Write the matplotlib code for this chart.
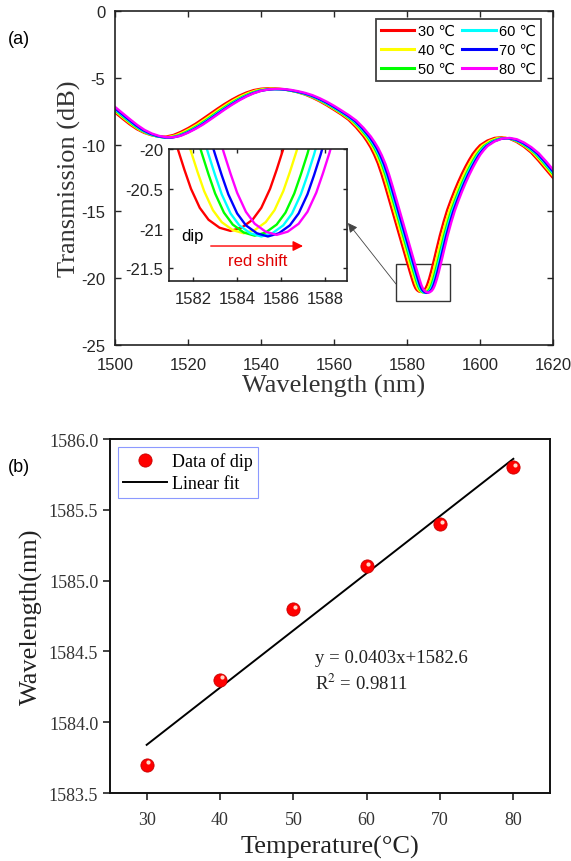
import numpy as np
import matplotlib
matplotlib.use("Agg")
import matplotlib.pyplot as plt
from matplotlib.patches import Rectangle
from matplotlib.transforms import ScaledTranslation

plt.rcParams['axes.unicode_minus'] = False
plt.rcParams['mathtext.fontset'] = 'stix'

# ---- data: panel (a), 30 C spectrum ----
wl_base = [1496, 1498, 1500, 1502, 1504, 1506, 1508, 1510, 1512, 1514, 1516, 1518,
           1520, 1522, 1524, 1526, 1528, 1530, 1532, 1534, 1536, 1538, 1540, 1542,
           1544, 1546, 1548, 1550, 1552, 1554, 1556, 1558, 1560, 1562, 1564, 1566,
           1568, 1569, 1570, 1571, 1572, 1573, 1574, 1575, 1576, 1577, 1578, 1579,
           1580, 1580.8, 1581.3, 1581.6, 1581.9, 1582.3, 1582.7, 1583.2, 1583.7,
           1584.2, 1584.7, 1585.1, 1585.5, 1585.8, 1586.1, 1586.6, 1587, 1587.5,
           1588, 1589, 1590, 1591, 1592, 1593, 1594, 1595, 1596, 1597, 1598, 1599,
           1600, 1602, 1604, 1606, 1608, 1610, 1612, 1614, 1616, 1618, 1620, 1622]
t_base = [-6.7, -7.15, -7.6, -8.05, -8.48, -8.85, -9.12, -9.3, -9.4, -9.4, -9.28, -9.05,
          -8.77, -8.45, -8.08, -7.7, -7.32, -6.96, -6.63, -6.34, -6.1, -5.92, -5.82, -5.78,
          -5.79, -5.85, -5.95, -6.08, -6.25, -6.48, -6.75, -7.06, -7.4, -7.75, -8.15, -8.7,
          -9.35, -9.75, -10.2, -10.75, -11.4, -12.2, -13.1, -14.05, -15.0, -15.95, -16.9, -17.85,
          -18.8, -19.55, -20.0, -20.26, -20.5, -20.74, -20.89, -20.99, -21.03,
          -20.99, -20.89, -20.74, -20.5, -20.26, -20.0, -19.5, -19.05, -18.5,
          -17.92, -16.8, -15.8, -14.9, -14.15, -13.45, -12.8, -12.2, -11.65, -11.15, -10.7, -10.35,
          -10.05, -9.7, -9.5, -9.45, -9.55, -9.8, -10.15, -10.6, -11.2, -11.85, -12.5, -13.1]

temps = [30, 40, 50, 60, 70, 80]
dip_wl = [1583.7, 1584.3, 1584.8, 1585.1, 1585.4, 1585.8]
dip_depth = [-21.03, -21.06, -21.09, -21.10, -21.10, -21.08]
colors = ['#ff0000', '#ffff00', '#00ff00', '#00ffff', '#0000ff', '#ff00ff']

# panel (b) fit line end points
fit_x = [30, 80]
fit_y = [1583.84, 1585.86]

W, H = 571, 862
fig = plt.figure(figsize=(W / 100, H / 100), dpi=100)

def box(l, t, r, b):
    return [l / W, 1 - b / H, (r - l) / W, (b - t) / H]

sans = ['Liberation Sans', 'DejaVu Sans']
serif = ['Liberation Serif', 'DejaVu Serif']
tick_col = '#262626'

# ---------------- panel (a) ----------------
ax = fig.add_axes(box(115, 12, 553, 346))
wl_base = np.array(wl_base)
t_base = np.array(t_base)
curves = []
for i, T in enumerate(temps):
    x = wl_base + (dip_wl[i] - dip_wl[0])
    y = t_base + (dip_depth[i] - dip_depth[0])
    curves.append((x, y))
    ax.plot(x, y, color=colors[i], lw=1.7, label=f'{T} \u2103')

ax.set_xlim(1500, 1620)
ax.set_ylim(-25, 0)
ax.set_xticks(range(1500, 1621, 20))
ax.set_yticks(range(-25, 1, 5))
ax.tick_params(direction='in', top=True, right=True, length=4, width=1,
               labelsize=12, colors=tick_col, labelcolor=tick_col)
ax.tick_params(axis='x', pad=9)
ax.tick_params(axis='y', pad=7)
for lab in ax.get_xticklabels() + ax.get_yticklabels():
    lab.set_family(sans)
for s in ax.spines.values():
    s.set_linewidth(1.2)
    s.set_color('#222222')
ax.set_xlabel('Wavelength (nm)', family=serif, fontsize=19, color='#333333', labelpad=1)
ax.set_ylabel('Transmission (dB)', family=serif, fontsize=19, color='#333333', labelpad=0)

leg = ax.legend(ncol=2, loc='upper right', bbox_to_anchor=(0.973, 0.976),
                prop={'family': sans, 'size': 10.5}, frameon=True, fancybox=False,
                handlelength=2.3, handletextpad=0.25, columnspacing=0.5,
                labelspacing=0.35, borderpad=0.35, borderaxespad=0)
leg.get_frame().set_edgecolor('#111111')
leg.get_frame().set_linewidth(1.3)
for line in leg.get_lines():
    line.set_linewidth(2.2)

ax.add_patch(Rectangle((1577, -21.7), 14.8, 2.8, fill=False, ec='#333333', lw=1.0))
ax.annotate('', xy=(348 / W, 1 - 224 / H), xytext=(396 / W, 1 - 285 / H),
            xycoords='figure fraction', textcoords='figure fraction',
            arrowprops=dict(arrowstyle='-|>', color='#444444', lw=0.6,
                            mutation_scale=14, shrinkA=0, shrinkB=0))
fig.text(8 / W, 1 - 40 / H, '(a)', family=sans, fontsize=13, va='center', ha='left')

# inset
axi = fig.add_axes(box(169, 150, 347, 282))
for i, (x, y) in enumerate(curves):
    axi.plot(x, y, color=colors[i], lw=1.7)
axi.set_xlim(1580.9, 1589.0)
axi.set_ylim(-21.66, -20)
axi.set_xticks([1582, 1584, 1586, 1588])
axi.set_yticks([-21.5, -21, -20.5, -20])
axi.set_yticklabels(['-21.5', '-21', '-20.5', '-20'])
axi.tick_params(direction='in', top=True, right=True, length=3, width=1,
                labelsize=12, colors=tick_col, labelcolor=tick_col)
axi.tick_params(axis='x', pad=7)
axi.tick_params(axis='y', pad=4)
for lab in axi.get_xticklabels() + axi.get_yticklabels():
    lab.set_family(sans)
for s in axi.spines.values():
    s.set_linewidth(1.2)
    s.set_color('#222222')
axi.text(1581.45, -21.09, 'dip', family=sans, fontsize=12, va='center', ha='left')
axi.annotate('', xy=(1587.0, -21.22), xytext=(1582.8, -21.22),
             arrowprops=dict(arrowstyle='-|>', color='#ff0000', lw=1.0,
                             mutation_scale=15, shrinkA=0, shrinkB=0))
axi.text(1584.93, -21.40, 'red shift', family=sans, fontsize=12, color='#e00000',
         va='center', ha='center')

# ---------------- panel (b) ----------------
bx = fig.add_axes(box(110, 440, 550, 794))
bx.plot(fit_x, fit_y, color='black', lw=1.4, label='Linear fit', zorder=2)
bx.plot(temps, dip_wl, 'o', ms=9.5, mfc='#ff0000', mec='#c80000', mew=0.6,
        label='Data of dip', zorder=3)
hl = bx.transData + ScaledTranslation(1.2 / 72, 1.6 / 72, fig.dpi_scale_trans)
bx.plot(temps, dip_wl, 'o', ms=3, mfc='#ffd8c8', mec='none', transform=hl, zorder=4)

bx.set_xlim(25, 85)
bx.set_ylim(1583.5, 1586.0)
bx.set_xticks(range(30, 81, 10))
bx.set_yticks([1583.5, 1584.0, 1584.5, 1585.0, 1585.5, 1586.0])
bx.set_yticklabels(['1583.5', '1584.0', '1584.5', '1585.0', '1585.5', '1586.0'])
bx.tick_params(direction='out', length=5, width=1.2, labelsize=13,
               colors='#222222', labelcolor='#333333')
bx.tick_params(axis='x', pad=8)
for lab in bx.get_xticklabels() + bx.get_yticklabels():
    lab.set_family(serif)
for s in bx.spines.values():
    s.set_linewidth(1.4)
    s.set_color('#111111')
bx.set_xlabel('Temperature(\u00b0C)', family=serif, fontsize=19, color='#222222', labelpad=5)
bx.set_ylabel('Wavelength(nm)', family=serif, fontsize=19, color='#222222', labelpad=4)

h, l = bx.get_legend_handles_labels()
lg = bx.legend([h[1], h[0]], [l[1], l[0]], loc='upper left', bbox_to_anchor=(0.018, 0.978),
               prop={'family': serif, 'size': 13}, frameon=True, fancybox=False,
               handlelength=2.4, handletextpad=0.3, labelspacing=0.3,
               borderpad=0.3, borderaxespad=0)
lg.get_frame().set_edgecolor('#7080ff')
lg.get_frame().set_linewidth(0.8)

bx.text(52.9, 1584.46, 'y = 0.0403x+1582.6', family=serif, fontsize=13.5,
        va='center', ha='left', color='#222222')
bx.text(52.9, 1584.28, 'R$^2$ = 0.9811', family=serif, fontsize=13.5,
        va='center', ha='left', color='#222222')
fig.text(8 / W, 1 - 468 / H, '(b)', family=sans, fontsize=13, va='center', ha='left')

fig.savefig('out.png', dpi=100)
